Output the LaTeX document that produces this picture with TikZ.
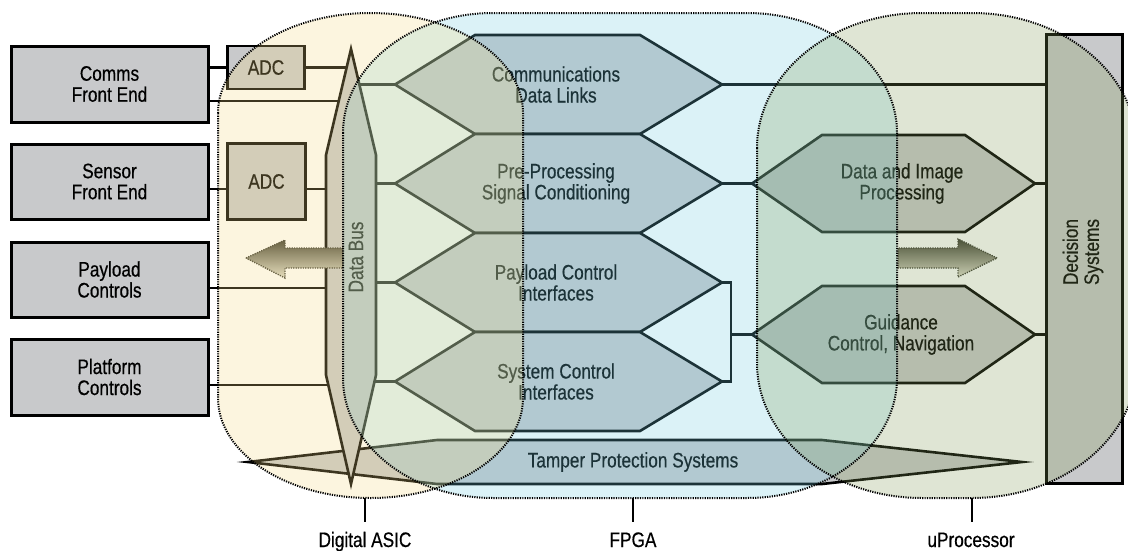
\documentclass[tikz,border=0pt]{standalone}
\usepackage{fontspec}
\setmainfont{Liberation Sans}[FakeStretch=0.82, FakeBold=0.5]
\usetikzlibrary{calc}

\definecolor{boxgray}{RGB}{200,201,203}
\definecolor{asicfill}{RGB}{247,219,130}
\definecolor{fpgafill}{RGB}{115,204,227}
\definecolor{upfill}{RGB}{130,155,87}
\definecolor{arrowdark}{RGB}{58,58,46}
\definecolor{arrowlight}{RGB}{225,223,208}
\definecolor{arrowrim}{RGB}{60,60,50}

% hexagonal block: name, left tip x, top-left x, top-right x, right tip x, top y, bottom y
\newcommand{\hexblock}[7]{%
  \coordinate (#1-l) at (#2,{(#6+#7)/2});
  \coordinate (#1-r) at (#5,{(#6+#7)/2});
  \draw[part] (#1-l) -- (#3,#6) -- (#4,#6) -- (#1-r) -- (#4,#7) -- (#3,#7) -- cycle;
}

\begin{document}
\begin{tikzpicture}[x=1pt,y=-1pt,
  font=\fontsize{21}{21}\selectfont,
  frontbox/.style={draw=black, line width=3pt, fill=boxgray, align=center, inner sep=0pt},
  adcbox/.style={draw=black, line width=2.7pt, fill=boxgray, align=center, inner sep=0pt},
  part/.style={draw=black, line width=2.6pt, fill=boxgray, line join=miter},
  conn/.style={draw=black, line width=2.6pt},
  lbl/.style={align=center, inner sep=0pt},
  zone/.style={fill opacity=0.25},
  rim/.style={draw=black, line width=2pt, dash pattern=on 1.2pt off 1.2pt},
  arrowbody/.style={top color=arrowdark, bottom color=arrowlight},
  arrowedge/.style={draw=arrowrim, line width=1.4pt, dash pattern=on 1.2pt off 1.2pt},
  tick/.style={draw=black, line width=2.6pt}]

\useasboundingbox (0,0) rectangle (1128,550);
\fill[white] (0,0) rectangle (1128,550);

% ---- external front ends ----
\node[frontbox, minimum width=197pt, minimum height=76pt] (comms) at (109.5,84) {Comms\\Front End};
\node[frontbox, minimum width=197pt, minimum height=75pt] (sensor) at (109.5,181.5) {Sensor\\Front End};
\node[frontbox, minimum width=197pt, minimum height=75pt] (payload) at (109.5,279.5) {Payload\\Controls};
\node[frontbox, minimum width=197pt, minimum height=76pt] (platform) at (109.5,377) {Platform\\Controls};

% ---- converters ----
\node[adcbox, minimum width=77pt, minimum height=43pt] (adc1) at (266,67.5) {ADC};
\node[adcbox, minimum width=78pt, minimum height=76pt] (adc2) at (266.5,181.5) {ADC};

% ---- data bus ----
\coordinate (busT)  at (351,49);
\coordinate (busTL) at (326,155);
\coordinate (busBL) at (326,375);
\coordinate (busB)  at (351,484);
\coordinate (busBR) at (376,375);
\coordinate (busTR) at (376,155);

% attachment points on the bus outline
\coordinate (b1) at (346.5,67.5);
\coordinate (b2) at (338.7,101);
\coordinate (b3) at (326,189);
\coordinate (b4) at (326,288);
\coordinate (b5) at (328.3,385);
\coordinate (r1) at (359.3,84.5);
\coordinate (r2) at (376,183.5);
\coordinate (r3) at (376,282.5);
\coordinate (r4) at (374.4,381.5);

% links into the bus
\draw[conn] (adc1.west -| comms.east) -- (adc1.west);
\draw[conn] (adc1.east) -- (b1);
\draw[conn] (b2 -| comms.east) -- (b2);
\draw[conn] (b3 -| sensor.east) -- (b3 -| adc2.west);
\draw[conn] (b3 -| adc2.east) -- (b3);
\draw[conn] (b4 -| payload.east) -- (b4);
\draw[conn] (b5 -| platform.east) -- (b5);

% ---- tamper protection band ----
\draw[part] (248,462) -- (437,440) -- (822,440) -- (1022,462) -- (822,484) -- (437,484) -- cycle;
\node[lbl] (tamper) at (633,462) {Tamper Protection Systems};

\draw[part] (busT) -- (busTL) -- (busBL) -- (busB) -- (busBR) -- (busTR) -- cycle;
\node[lbl, rotate=90] (bus) at (356,257) {Data Bus};

% ---- FPGA functions ----
\hexblock{h1}{395}{475}{640}{722}{35}{134}
\hexblock{h2}{395}{475}{640}{722}{134}{233}
\hexblock{h3}{395}{475}{640}{722}{233}{332}
\hexblock{h4}{395}{475}{640}{722}{332}{431}
\node[lbl] (h1t) at (556,84.5) {Communications\\Data Links};
\node[lbl] (h2t) at (556,183.5) {Pre-Processing\\Signal Conditioning};
\node[lbl] (h3t) at (556,282.5) {Payload Control\\Interfaces};
\node[lbl] (h4t) at (556,381.5) {System Control\\Interfaces};

\draw[conn] (r1) -- (h1-l);
\draw[conn] (r2) -- (h2-l);
\draw[conn] (r3) -- (h3-l);
\draw[conn] (r4) -- (h4-l);

% ---- processor functions ----
\hexblock{h5}{752}{822}{965}{1035}{135}{232}
\hexblock{h6}{752}{822}{965}{1035}{286}{383}
\node[lbl] (h5t) at (902,183.5) {Data and Image\\Processing};
\node[lbl] (h6t) at (901,334.5) {Guidance\\Control, Navigation};

% ---- decision systems ----
\node[frontbox, minimum width=76pt, minimum height=449pt] (dec) at (1084,259) {};
\node[lbl, rotate=90] (dect) at (1083,252) {Decision\\Systems};

\coordinate (j1) at (731,282.5);
\coordinate (j2) at (731,381.5);
\coordinate (jm) at (731,334.5);
\draw[conn] (h1-r) -- (h1-r -| dec.west);
\draw[conn] (h2-r) -- (h5-l);
\draw[conn] (h3-r) -- (j1) -- (j2) -- (h4-r);
\draw[conn] (jm) -- (h6-l);
\draw[conn] (h5-r) -- (h5-r -| dec.west);
\draw[conn] (h6-r) -- (h6-r -| dec.west);

% ---- migration arrows ----
\shade[arrowbody] (246,258) -- (285,240) -- (285,248) -- (343,248) -- (343,268) -- (285,268) -- (285,278) -- cycle;
\draw[arrowedge] (246,258) -- (285,240) -- (285,248) -- (343,248) -- (343,268) -- (285,268) -- (285,278) -- cycle;
\shade[arrowbody] (997,258) -- (958,239) -- (958,248) -- (898,248) -- (898,268) -- (958,268) -- (958,277) -- cycle;
\draw[arrowedge] (997,258) -- (958,239) -- (958,248) -- (898,248) -- (898,268) -- (958,268) -- (958,277) -- cycle;

% ---- device regions ----
\fill[fpgafill, zone] (343,133) .. controls (343,66.7) and (410.2,13) .. (493,13) -- (747,13)
  .. controls (829.9,13) and (897,66.7) .. (897,133) -- (897,378)
  .. controls (897,444.3) and (829.9,498) .. (747,498) -- (493,498)
  .. controls (410.2,498) and (343,444.3) .. (343,378) -- cycle;
\fill[upfill, zone] (757,148) .. controls (757,73.4) and (830.9,13) .. (922,13) -- (972,13)
  .. controls (1063.1,13) and (1137,73.4) .. (1137,148) -- (1137,363)
  .. controls (1137,437.6) and (1063.1,498) .. (972,498) -- (922,498)
  .. controls (830.9,498) and (757,437.6) .. (757,363) -- cycle;
\fill[asicfill, zone] (218,113) .. controls (218,57.8) and (286.3,13) .. (370.5,13)
  .. controls (454.7,13) and (523,57.8) .. (523,113) -- (523,398)
  .. controls (523,453.2) and (454.7,498) .. (370.5,498)
  .. controls (286.3,498) and (218,453.2) .. (218,398) -- cycle;

\draw[rim] (343,133) .. controls (343,66.7) and (410.2,13) .. (493,13) -- (747,13)
  .. controls (829.9,13) and (897,66.7) .. (897,133) -- (897,378)
  .. controls (897,444.3) and (829.9,498) .. (747,498) -- (493,498)
  .. controls (410.2,498) and (343,444.3) .. (343,378) -- cycle;
\draw[rim] (757,148) .. controls (757,73.4) and (830.9,13) .. (922,13) -- (972,13)
  .. controls (1063.1,13) and (1137,73.4) .. (1137,148) -- (1137,363)
  .. controls (1137,437.6) and (1063.1,498) .. (972,498) -- (922,498)
  .. controls (830.9,498) and (757,437.6) .. (757,363) -- cycle;
\draw[rim] (218,113) .. controls (218,57.8) and (286.3,13) .. (370.5,13)
  .. controls (454.7,13) and (523,57.8) .. (523,113) -- (523,398)
  .. controls (523,453.2) and (454.7,498) .. (370.5,498)
  .. controls (286.3,498) and (218,453.2) .. (218,398) -- cycle;

% ---- device labels ----
\coordinate (asicB) at (365,498);
\coordinate (fpgaB) at (633,498);
\coordinate (upB) at (972,498);
\node[lbl, anchor=base] (asicL) at (365,547) {Digital ASIC};
\node[lbl, anchor=base] (fpgaL) at (633,547) {FPGA};
\node[lbl, anchor=base] (upL) at (971,547) {uProcessor};
\draw[tick] (asicB) -- (asicB |- 0,522);
\draw[tick] (fpgaB) -- (fpgaB |- 0,522);
\draw[tick] (upB) -- (upB |- 0,522);

\end{tikzpicture}
\end{document}
